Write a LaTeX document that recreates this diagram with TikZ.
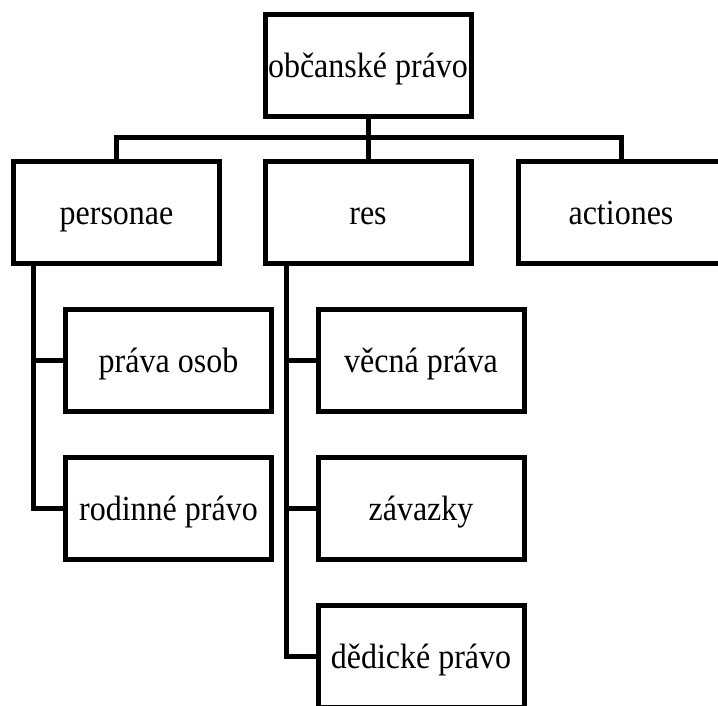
\documentclass[tikz,border=0pt]{standalone}
\usepackage{fontspec}
\setmainfont{Liberation Serif}

\begin{document}
\begin{tikzpicture}[x=1pt,y=-1pt]
		\tikzstyle{every node} = [rectangle,draw=black,line width=5pt,minimum width=206pt,minimum height=102pt,inner sep=0pt,text height=30pt,text depth=6pt,font=\fontsize{32}{38}\selectfont];
		\tikzstyle{conn} = [line width=5pt];
		\useasboundingbox (0,0) rectangle (718,705);
		\node (obcanske) at (368, 65) {\scalebox{1}[1.1]{občanské právo}};
		\node (personae) at (116.5, 212) {\scalebox{1}[1.1]{personae}};
		\node (res) at (368, 212) {\scalebox{1}[1.1]{res}};
		\node (actiones) at (621, 212) {\scalebox{1}[1.1]{actiones}};
		\node (osob) at (168.5, 360.5) {\scalebox{1}[1.1]{práva osob}};
		\node (rodinne) at (168.5, 508.5) {\scalebox{1}[1.1]{rodinné právo}};
		\node (vecna) at (421, 360.5) {\scalebox{1}[1.1]{věcná práva}};
		\node (zavazky) at (421, 508.5) {\scalebox{1}[1.1]{závazky}};
		\node (dedicke) at (421, 656) {\scalebox{1}[1.1]{dědické právo}};
		\coordinate (bar) at (368, 137);
		\coordinate (ptrunk) at (33, 263);
		\coordinate (rtrunk) at (286, 263);
		\draw[conn] (obcanske) -- (res);
		\draw[conn] (personae.north) |- (bar) -| (actiones.north);
		\draw[conn] (ptrunk) |- (rodinne.west);
		\draw[conn] (ptrunk |- osob.west) -- (osob.west);
		\draw[conn] (rtrunk) |- (dedicke.west);
		\draw[conn] (rtrunk |- vecna.west) -- (vecna.west);
		\draw[conn] (rtrunk |- zavazky.west) -- (zavazky.west);
	\end{tikzpicture}
\end{document}
